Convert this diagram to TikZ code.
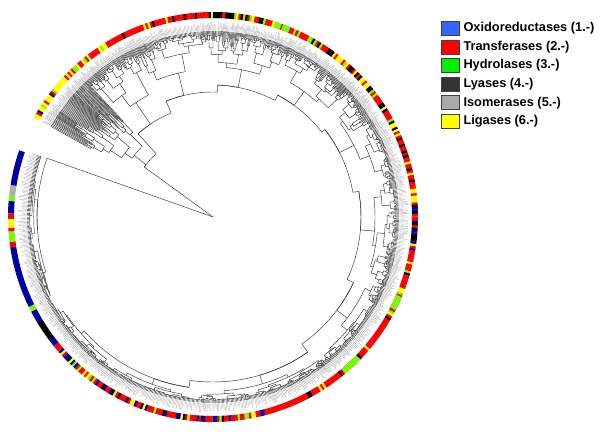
\documentclass[tikz,border=0pt]{standalone}
\usepackage{fontspec}
\setmainfont{Liberation Sans}
\usetikzlibrary{positioning}

\definecolor{legB}{RGB}{51,102,255}
\definecolor{legR}{RGB}{255,0,0}
\definecolor{legG}{RGB}{0,240,0}
\definecolor{legK}{RGB}{51,51,51}
\definecolor{legS}{RGB}{170,170,170}
\definecolor{legY}{RGB}{255,255,0}
\definecolor{ringB}{RGB}{0,0,165}
\definecolor{ringR}{RGB}{255,0,0}
\definecolor{ringG}{RGB}{120,250,0}
\definecolor{ringY}{RGB}{255,255,0}
\definecolor{ringK}{RGB}{0,0,0}
\definecolor{ringS}{RGB}{175,175,175}

\tikzset{
  branch/.style={draw=black!80, line width=0.45pt},
  tip/.style={draw=black!30, line width=0.35pt},
  ringseg/.style={line width=6pt},
  legbox/.style={draw=black!75, line width=0.6pt, minimum width=18pt, minimum height=14pt, inner sep=0pt},
  legtext/.style={inner sep=0pt, font=\fontsize{12.8}{15}\selectfont\bfseries}
}

% colour mix of the ring, sector by sector
\pgfmathdeclarerandomlist{sec1}{{Y}{Y}{Y}{Y}{Y}{Y}{R}{R}{B}{G}}
\pgfmathdeclarerandomlist{sec2}{{R}{R}{R}{R}{R}{R}{R}{Y}{Y}{G}{K}}
\pgfmathdeclarerandomlist{sec3}{{R}{R}{R}{R}{R}{K}{K}{Y}{G}}
\pgfmathdeclarerandomlist{sec4}{{G}{G}{R}{R}{R}{R}{Y}{K}}
\pgfmathdeclarerandomlist{sec5}{{R}{R}{R}{R}{K}{K}{K}{Y}{G}}
\pgfmathdeclarerandomlist{sec6}{{R}{R}{R}{R}{K}{K}{K}{Y}{Y}{B}}
\pgfmathdeclarerandomlist{sec7}{{R}{R}{R}{R}{R}{R}{R}{R}{R}{R}{R}{R}{R}{R}{G}{K}{Y}}
\pgfmathdeclarerandomlist{sec8}{{R}{R}{R}{R}{R}{R}{B}{B}{G}{Y}{K}}
\pgfmathdeclarerandomlist{sec9}{{R}{R}{R}{R}{B}{B}{B}{Y}{G}{K}}

\def\rateA{0.1}
\def\rateB{0.45}

% clade between angles #1 and #2, node at radius #3
\newcommand\subtree[3]{%
  \begingroup
  \pgfmathsetmacro\stA{#1}\pgfmathsetmacro\stB{#2}\pgfmathsetmacro\stR{#3}%
  \pgfmathsetmacro\stW{abs(\stB-\stA)}%
  \pgfmathtruncatemacro\stLeaf{(\stW<1.2 || \stR>182) ? 1 : 0}%
  \ifnum\stLeaf=1
    \pgfmathtruncatemacro\stN{max(0,floor(\stW/0.42))}%
    \pgfmathsetmacro\stF{\stA+(\stB-\stA)*0.5/(\stN+1)}%
    \pgfmathsetmacro\stL{\stB-(\stB-\stA)*0.5/(\stN+1)}%
    \ifnum\stN>0
      \draw[branch] (\stF:\stR) arc[start angle=\stF, end angle=\stL, radius=\stR pt];
    \fi
    \foreach \j in {0,...,\stN}{%
      \pgfmathsetmacro\stT{\stA+(\stB-\stA)*(\j+0.5)/(\stN+1)}%
      \pgfmathsetmacro\stE{190+6*rnd}%
      \draw[branch] (\stT:\stR) -- (\stT:186);
      \draw[tip] (\stT:186.5) -- (\stT:\stE);
    }%
  \else
    \pgfmathsetmacro\stS{\stA+(\stB-\stA)*(0.2+0.6*rnd)}%
    \pgfmathsetmacro\stMa{(\stA+\stS)/2}%
    \pgfmathsetmacro\stMb{(\stS+\stB)/2}%
    \pgfmathsetmacro\stRa{\stR+(185-\stR)*(\rateA+\rateB*rnd)}%
    \pgfmathsetmacro\stRb{\stR+(185-\stR)*(\rateA+\rateB*rnd)}%
    \draw[branch] (\stMa:\stR) arc[start angle=\stMa, end angle=\stMb, radius=\stR pt];
    \draw[branch] (\stMa:\stR) -- (\stMa:\stRa);
    \draw[branch] (\stMb:\stR) -- (\stMb:\stRb);
    \subtree{\stA}{\stS}{\stRa}%
    \subtree{\stS}{\stB}{\stRb}%
  \fi
  \endgroup}

% edge: arc at the parent's radius, then out to the child
\newcommand\spedge[4]{%
  \draw[branch] (#1:#2) arc[start angle=#1, end angle=#3, radius=#2 pt] -- (#3:#4);}

\begin{document}
\begin{tikzpicture}[x=1pt, y=1pt]
  \useasboundingbox (0,0) rectangle (600,437);
  \pgfmathsetseed{12}

  \begin{scope}[shift={(213,220)}]
    % root
    \draw[branch] (0,0) -- (144:85);
    \draw[branch] (0,0) -- (160.5:176);
    \draw[branch] (160.5:176) arc[start angle=160.5, end angle=184.25, radius=176pt];
    \subtree{-152}{-199.5}{176}

    % deep fan
    \def\rateA{0.03}\def\rateB{0.22}
    \spedge{144}{85}{142}{100}
    \subtree{151}{133}{100}
    \def\rateA{0.1}\def\rateB{0.45}

    % backbone
    \spedge{144}{85}{132}{112}
    \spedge{132}{112}{124}{138}   \subtree{133}{115}{138}
    \spedge{132}{112}{112}{125}
    \spedge{112}{125}{103.5}{148} \subtree{115}{92}{148}
    \spedge{112}{125}{88}{132}
    \spedge{88}{132}{79}{150}     \subtree{92}{66}{150}
    \spedge{88}{132}{62}{138}
    \spedge{62}{138}{54}{155}     \subtree{66}{42}{155}
    \spedge{62}{138}{38}{142}
    \spedge{38}{142}{27}{158}     \subtree{42}{12}{158}
    \spedge{38}{142}{10}{148}
    \spedge{10}{148}{-5}{162}     \subtree{12}{-22}{162}
    \spedge{10}{148}{-25}{155}
    \spedge{-25}{155}{-37}{168}   \subtree{-22}{-52}{168}
    \spedge{-25}{155}{-55}{165}
    \spedge{-55}{165}{-73.5}{174} \subtree{-52}{-95}{174}
    \spedge{-55}{165}{-98}{172}
    \spedge{-98}{172}{-110}{178}  \subtree{-95}{-125}{178}
    \spedge{-98}{172}{-138.5}{176} \subtree{-125}{-152}{176}

    % colour ring
    \foreach \a in {151,150.35,...,-138.6}{
      \pgfmathtruncatemacro\sn{\a>137 ? 1 : (\a>100 ? 2 : (\a>78 ? 3 : (\a>55 ? 4 : (\a>25 ? 5 : (\a>-10 ? 6 : (\a>-75 ? 7 : (\a>-110 ? 8 : 9)))))))}
      \pgfmathrandomitem{\rc}{sec\sn}
      \pgfmathsetmacro\b{\a-0.7}
      \draw[ringseg, draw=ring\rc] (\a:202) arc[start angle=\a, end angle=\b, radius=202pt];
    }
    \foreach \p/\q/\c in {-139/-141/R, -141/-143/B, -143/-149/K, -149/-152.5/B,
        -152.5/-154/G, -154/-171.5/B, -171.5/-173/R, -173/-176/G, -176/-177/R,
        -177/-179.5/Y, -179.5/-181/R, -181/-184.5/B, -184.5/-186/G, -186/-189/S,
        -189/-199/B, -23/-27/G, -45/-49.5/G, 90/87.5/K, 86.5/84/K, 70/68/G}
      \draw[ringseg, draw=ring\c] (\p:202) arc[start angle=\p, end angle=\q, radius=202pt];
  \end{scope}

  % legend
  \foreach \col/\txt [count=\i] in {legB/Oxidoreductases (1.-), legR/Transferases (2.-),
      legG/Hydrolases (3.-), legK/Lyases (4.-), legS/Isomerases (5.-), legY/Ligases (6.-)}{
    \node[legbox, fill=\col] (box\i) at (450,427.2-18.6*\i) {};
    \node[legtext, right=4pt of box\i] (lab\i) {\txt};
  }
\end{tikzpicture}
\end{document}
